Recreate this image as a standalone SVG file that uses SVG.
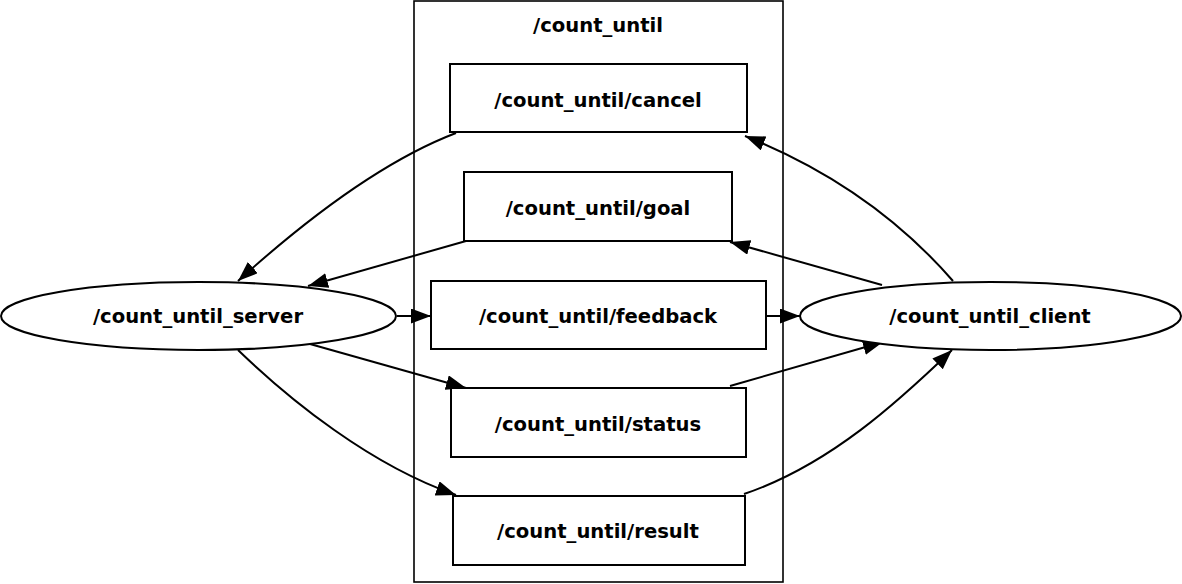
<svg xmlns="http://www.w3.org/2000/svg" width="1182" height="584" viewBox="0 0 1182 584">
<defs>
<style>
.box{fill:#fff;stroke:#000;stroke-width:2}
.cl{fill:none;stroke:#000;stroke-width:1.6}
.e{fill:none;stroke:#000;stroke-width:2}
text{font-family:"DejaVu Sans",sans-serif;font-weight:bold;font-size:19.6px;text-anchor:middle;dominant-baseline:central;fill:#000}
</style>
<marker id="ah" markerUnits="userSpaceOnUse" markerWidth="21" markerHeight="16" refX="20" refY="7.5" orient="auto">
<path d="M0,0 L20,7.5 L0,15 z" fill="#000"/>
</marker>
</defs>
<rect width="1182" height="584" fill="#fff"/>
<g id="cluster_count_until">
<rect class="cl" x="414" y="1" width="369" height="581"/>
<text x="598" y="25">/count_until</text>
</g>
<g id="connectors">
<path class="e" d="M456,133 C380,162 300,225 238,281" marker-end="url(#ah)"/>
<path class="e" d="M466,241 L308,286" marker-end="url(#ah)"/>
<path class="e" d="M397,316 L431,316" marker-end="url(#ah)"/>
<path class="e" d="M766,316 L800,316" marker-end="url(#ah)"/>
<path class="e" d="M310,344 L466,388" marker-end="url(#ah)"/>
<path class="e" d="M238,350 C290,400 370,465 456,495" marker-end="url(#ah)"/>
<path class="e" d="M953,281 C900,220 830,170 745,136" marker-end="url(#ah)"/>
<path class="e" d="M882,285 L730,242" marker-end="url(#ah)"/>
<path class="e" d="M730,386 L883,342" marker-end="url(#ah)"/>
<path class="e" d="M744,494 C830,465 900,400 952,350" marker-end="url(#ah)"/>
</g>
<g id="cancel"><rect class="box" x="450" y="64" width="297" height="68"/><text x="598" y="100">/count_until/cancel</text></g>
<g id="goal"><rect class="box" x="464" y="172" width="268" height="69"/><text x="598" y="208">/count_until/goal</text></g>
<g id="feedback"><rect class="box" x="431" y="281" width="335" height="68"/><text x="598" y="316">/count_until/feedback</text></g>
<g id="status"><rect class="box" x="451" y="388" width="295" height="69"/><text x="598" y="424">/count_until/status</text></g>
<g id="result"><rect class="box" x="453" y="496" width="292" height="69"/><text x="598" y="531">/count_until/result</text></g>
<g id="server"><ellipse class="box" cx="198.5" cy="316" rx="197.5" ry="34"/><text x="198" y="316">/count_until_server</text></g>
<g id="client"><ellipse class="box" cx="990.5" cy="316" rx="190.5" ry="34"/><text x="990" y="316">/count_until_client</text></g>
</svg>
